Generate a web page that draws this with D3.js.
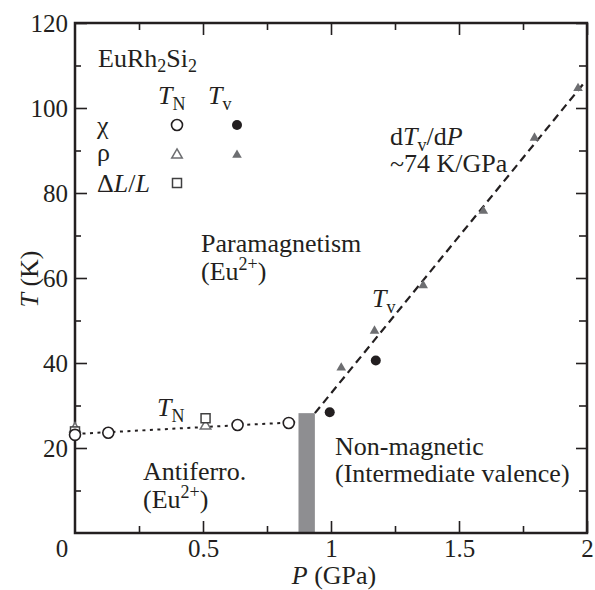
<!DOCTYPE html>
<html>
<head>
<meta charset="utf-8">
<script src="https://cdn.jsdelivr.net/npm/d3@7"></script>
<style>
  body { margin: 0; background: #fff; }
</style>
</head>
<body>
<script>
//T_N points (open symbols): chi, rho, dL/L
var tnChiP = [0, 0.13, 0.635, 0.835];
var tnChiT = [23.1, 23.6, 25.4, 25.9];
var tnRhoP = [0, 0.51];
var tnRhoT = [24.8, 25.4];
var tnDlP = [0, 0.51];
var tnDlT = [23.9, 27.0];

//T_v points (filled symbols): chi, rho
var tvChiP = [0.995, 1.175];
var tvChiT = [28.4, 40.6];
var tvRhoP = [1.04, 1.17, 1.36, 1.595, 1.795, 1.965];
var tvRhoT = [39.1, 47.8, 58.5, 76.0, 93.2, 104.9];

//Guide lines and the grey band at the critical pressure
var tnLineP = [0, 0.87];
var tnLineT = [23.3, 26.1];
var tvLineP = [0.937, 1.99];
var tvLineT = [28.2, 106];
var bandP = [0.873, 0.937];
var bandT = [0, 28.2];

//Tick values
var yMajor = [20, 40, 60, 80, 100, 120];
var yMinor = [10, 30, 50, 70, 90, 110];
var xMajor = [0.5, 1, 1.5, 2];
var xMinor = [0.25, 0.75, 1.25, 1.75];

var width = 595, height = 590;
var dark = "#231f20", grey = "#6d6e71";
var serif = "'Liberation Serif', 'Times New Roman', Times, 'DejaVu Serif', serif";
var fs = 26, tickFs = 25, subFs = 18;

const svg = d3.select("body").append("svg")
    .attr("width", width)
    .attr("height", height)
    .attr("font-family", serif);

const x = d3.scaleLinear().domain([0, 2]).range([75, 587]);
const y = d3.scaleLinear().domain([0, 120]).range([533, 23]);

//grey band
svg.append("rect")
    .attr("x", x(bandP[0]))
    .attr("y", y(bandT[1]))
    .attr("width", x(bandP[1]) - x(bandP[0]))
    .attr("height", y(bandT[0]) - y(bandT[1]))
    .attr("fill", "#8e8e91");

//axes: ticks point inwards
function styleAxis(g) {
    g.attr("font-family", serif).attr("font-size", tickFs);
    g.select(".domain").remove();
    g.selectAll(".tick line").attr("stroke", dark).attr("stroke-width", 1.6);
    g.selectAll(".tick text").attr("fill", dark);
}

svg.append("g").attr("transform", `translate(${x(0)},0)`)
    .call(d3.axisLeft(y).tickValues(yMajor).tickSize(-12).tickPadding(7))
    .call(styleAxis)
    .call(g => g.selectAll(".tick text").attr("dy", "0.34em"));
svg.append("g").attr("transform", `translate(${x(0)},0)`)
    .call(d3.axisLeft(y).tickValues(yMinor).tickSize(-6).tickFormat(""))
    .call(styleAxis);

svg.append("g").attr("transform", `translate(${x(2)},0)`)
    .call(d3.axisRight(y).tickValues(yMajor).tickSize(-11).tickFormat(""))
    .call(styleAxis);
svg.append("g").attr("transform", `translate(${x(2)},0)`)
    .call(d3.axisRight(y).tickValues(yMinor).tickSize(-8).tickFormat(""))
    .call(styleAxis);

svg.append("g").attr("transform", `translate(0,${y(0)})`)
    .call(d3.axisBottom(x).tickValues(xMajor).tickSize(-12).tickPadding(6).tickFormat(d3.format("")))
    .call(styleAxis);
svg.append("g").attr("transform", `translate(0,${y(0)})`)
    .call(d3.axisBottom(x).tickValues(xMinor).tickSize(-7).tickFormat(""))
    .call(styleAxis);

svg.append("g").attr("transform", `translate(0,${y(120)})`)
    .call(d3.axisTop(x).tickValues(xMajor).tickSize(-12).tickFormat(""))
    .call(styleAxis);
svg.append("g").attr("transform", `translate(0,${y(120)})`)
    .call(d3.axisTop(x).tickValues(xMinor).tickSize(-7).tickFormat(""))
    .call(styleAxis);

//shared corner "0"
svg.append("text").attr("x", 62).attr("y", 557).attr("fill", dark)
    .attr("text-anchor", "middle").attr("font-size", tickFs).text("0");

//frame
svg.append("rect")
    .attr("x", x(0)).attr("y", y(120))
    .attr("width", x(2) - x(0)).attr("height", y(0) - y(120))
    .attr("fill", "none").attr("stroke", dark).attr("stroke-width", 2.5);

//guide lines
const line = d3.line().x(d => x(d[0])).y(d => y(d[1]));
svg.append("path")
    .datum(d3.zip(tnLineP, tnLineT))
    .attr("d", line)
    .attr("fill", "none").attr("stroke", dark)
    .attr("stroke-width", 2).attr("stroke-dasharray", "3,4.5");
svg.append("path")
    .datum(d3.zip(tvLineP, tvLineT))
    .attr("d", line)
    .attr("fill", "none").attr("stroke", dark)
    .attr("stroke-width", 2.2).attr("stroke-dasharray", "8,5");

//symbols
const tri = d3.symbol().type(d3.symbolTriangle);
function drawCircles(P, T, filled, r) {
    svg.append("g").selectAll("circle")
        .data(d3.zip(P, T))
        .join("circle")
        .attr("cx", d => x(d[0])).attr("cy", d => y(d[1]))
        .attr("r", r)
        .attr("fill", filled ? dark : "#fff")
        .attr("stroke", dark).attr("stroke-width", filled ? 0 : 1.6);
}
function drawTriangles(P, T, filled) {
    svg.append("g").selectAll("path")
        .data(d3.zip(P, T))
        .join("path")
        .attr("transform", d => `translate(${x(d[0])},${y(d[1]) + 1})`)
        .attr("d", tri.size(filled ? 40 : 48)())
        .attr("fill", filled ? grey : "#fff")
        .attr("stroke", grey).attr("stroke-width", filled ? 0 : 1.5);
}
function drawSquares(P, T) {
    svg.append("g").selectAll("rect")
        .data(d3.zip(P, T))
        .join("rect")
        .attr("x", d => x(d[0]) - 4.5).attr("y", d => y(d[1]) - 4.5)
        .attr("width", 9).attr("height", 9)
        .attr("fill", "#fff")
        .attr("stroke", "#404041").attr("stroke-width", 1.5);
}

drawTriangles(tnRhoP, tnRhoT, false);
drawSquares(tnDlP, tnDlT);
drawCircles(tnChiP, tnChiT, false, 5.5);
drawCircles(tvChiP, tvChiT, true, 5);
drawTriangles(tvRhoP, tvRhoT, true);

//text helpers
function newText(g, px, py) {
    return g.append("text").attr("x", px).attr("y", py)
        .attr("font-size", fs).attr("fill", dark);
}
function subLabel(g, px, py, main, sub) {
    const t = newText(g, px, py);
    t.append("tspan").attr("font-style", "italic").text(main);
    t.append("tspan").attr("font-size", subFs).attr("dy", 6).text(sub);
    return t;
}
function withSup(px, py, pre, sup, post) {
    const t = newText(svg, px, py);
    t.append("tspan").text(pre);
    t.append("tspan").attr("font-size", subFs).attr("dy", -10).text(sup);
    t.append("tspan").attr("dy", 10).text(post);
}

//legend
const legend = svg.append("g");
newText(legend, 98, 67)
    .call(t => {
        t.append("tspan").text("EuRh");
        t.append("tspan").attr("font-size", subFs).attr("dy", 5).text("2");
        t.append("tspan").attr("dy", -5).text("Si");
        t.append("tspan").attr("font-size", subFs).attr("dy", 5).text("2");
    });

subLabel(legend, 158, 104, "T", "N");
subLabel(legend, 208, 104, "T", "v");

newText(legend, 97, 134).text("χ");
newText(legend, 97, 161).text("ρ");
newText(legend, 97, 192)
    .call(t => {
        t.append("tspan").text("Δ");
        t.append("tspan").attr("font-style", "italic").text("L");
        t.append("tspan").text("/");
        t.append("tspan").attr("font-style", "italic").text("L");
    });

legend.append("circle").attr("cx", 177).attr("cy", 125).attr("r", 5.5)
    .attr("fill", "#fff").attr("stroke", dark).attr("stroke-width", 1.6);
legend.append("circle").attr("cx", 237).attr("cy", 125).attr("r", 5).attr("fill", dark);
legend.append("path").attr("transform", "translate(177,155)").attr("d", tri.size(48)())
    .attr("fill", "#fff").attr("stroke", grey).attr("stroke-width", 1.5);
legend.append("path").attr("transform", "translate(237,155)").attr("d", tri.size(40)())
    .attr("fill", grey);
legend.append("rect").attr("x", 172.5).attr("y", 178.5).attr("width", 9).attr("height", 9)
    .attr("fill", "#fff").attr("stroke", "#404041").attr("stroke-width", 1.5);

//annotations
newText(svg, 201, 252).text("Paramagnetism");
withSup(201, 280, "(Eu", "2+", ")");
newText(svg, 143, 480).text("Antiferro.");
withSup(143, 508, "(Eu", "2+", ")");
newText(svg, 335, 455).text("Non-magnetic");
newText(svg, 335, 482).text("(Intermediate valence)");
subLabel(svg, 157, 416, "T", "N");
subLabel(svg, 372, 307, "T", "v");

newText(svg, 390, 145)
    .call(t => {
        t.append("tspan").text("d");
        t.append("tspan").attr("font-style", "italic").text("T");
        t.append("tspan").attr("font-size", subFs).attr("dy", 6).text("v");
        t.append("tspan").attr("dy", -6).text("/d");
        t.append("tspan").attr("font-style", "italic").text("P");
    });
newText(svg, 390, 172).text("~74 K/GPa");

//axis titles
newText(svg, 334, 584).attr("text-anchor", "middle")
    .call(t => {
        t.append("tspan").attr("font-style", "italic").text("P");
        t.append("tspan").text(" (GPa)");
    });
newText(svg, 0, 0).attr("transform", "translate(38,279) rotate(-90)")
    .attr("text-anchor", "middle")
    .call(t => {
        t.append("tspan").attr("font-style", "italic").text("T");
        t.append("tspan").text(" (K)");
    });
</script>
</body>
</html>
